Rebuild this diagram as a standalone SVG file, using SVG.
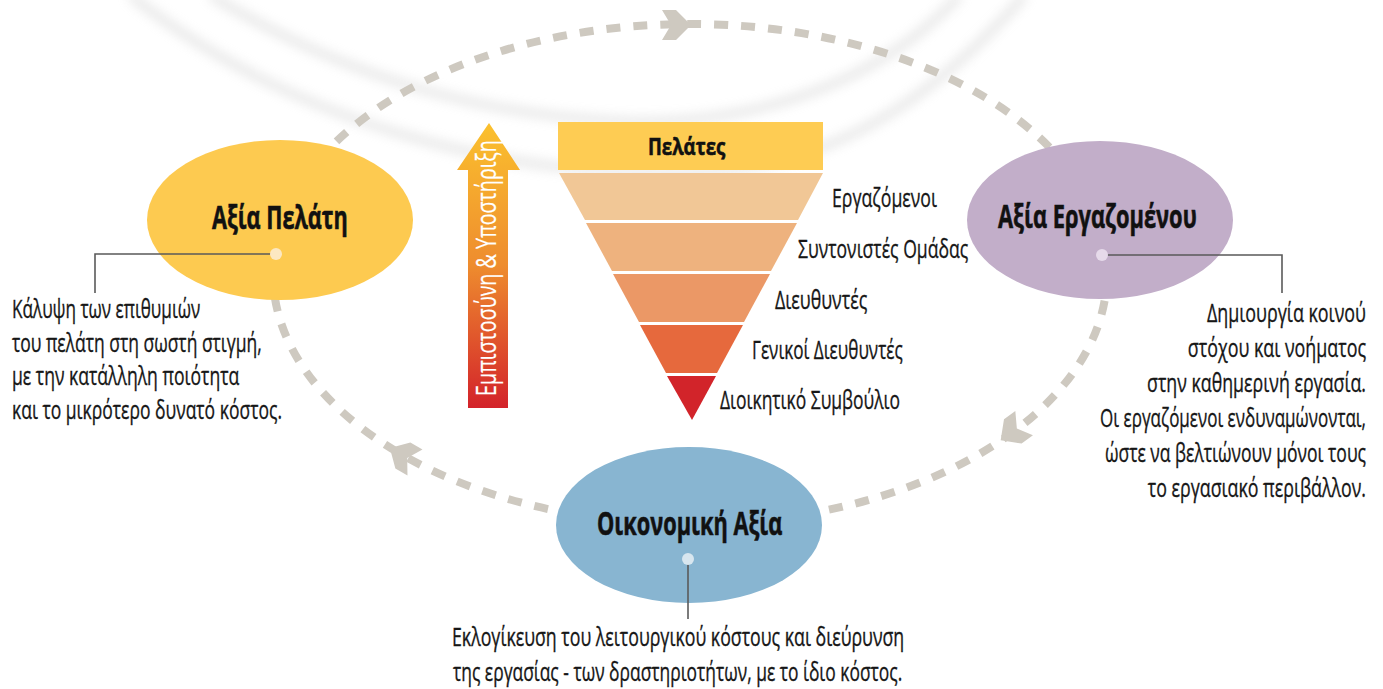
<svg xmlns="http://www.w3.org/2000/svg" width="1383" height="689" viewBox="0 0 1383 689">
<style>
.t{font-family:"Open Sans","Liberation Sans",sans-serif;font-size:26px;fill:#161616;stroke:#161616;stroke-width:0.35}
.r{text-anchor:end}
.h{font-family:"Open Sans","Liberation Sans",sans-serif;font-size:32px;font-weight:700;fill:#111;stroke:#111;stroke-width:0.6}
.lead{fill:none;stroke:#5a5a5a;stroke-width:1.6}
.chev{fill:#CEC9C0}
.sw{fill:none;stroke:#b5b5b5;stroke-width:8;opacity:0.35;filter:url(#blur)}
</style>
<defs>
<filter id="blur" x="-20%" y="-50%" width="140%" height="200%"><feGaussianBlur stdDeviation="6"/></filter>
<linearGradient id="ag" x1="0" y1="123" x2="0" y2="408" gradientUnits="userSpaceOnUse">
<stop offset="0" stop-color="#FBC12E"/>
<stop offset="0.5" stop-color="#EE8C2E"/>
<stop offset="1" stop-color="#D3222A"/>
</linearGradient>
<polygon id="chevShape" points="-15,-15 -1,-15 14,0 -1,15 -15,15 -6,0"/>
</defs>
<rect width="1383" height="689" fill="#ffffff"/>
<g id="background">
<path class="sw" d="M130 -5 C300 130 520 180 700 172 C850 166 950 80 1025 -5"/>
<path class="sw" d="M210 -5 C340 75 480 118 640 122 C800 120 900 60 960 -5"/>
</g>
<g id="connectors">
<ellipse cx="690" cy="274" rx="417" ry="250" fill="none" stroke="#CEC9C0" stroke-width="8" stroke-dasharray="14 13"/>
<use href="#chevShape" class="chev" transform="translate(677,25)"/>
<use href="#chevShape" class="chev" transform="translate(402,455) rotate(210)"/>
<use href="#chevShape" class="chev" transform="translate(1012,432) rotate(144)"/>
</g>
<g id="arrow-trust">
<polygon points="468,408 508,408 508,170 520,170 489,123 457,170 468,170" fill="url(#ag)"/>
<text class="t" transform="translate(496,396) rotate(-90) scale(0.75,1)" style="fill:#ffffff;stroke:#ffffff;stroke-width:0.2;font-size:27px" textLength="341" lengthAdjust="spacingAndGlyphs">Εμπιστοσύνη &amp; Υποστήριξη</text>
</g>
<g id="pyramid">
<rect x="558" y="122" width="265" height="48" fill="#FECC53"/>
<text class="h" transform="translate(648,155) scale(0.75,1)" style="font-size:24px" textLength="103" lengthAdjust="spacingAndGlyphs">Πελάτες</text>
<polygon points="559,173 823,173 798,220 585,220" fill="#F1C796"/>
<polygon points="586,223 797,223 771,271 612,271" fill="#EEB27E"/>
<polygon points="613,274 770,274 744,322 639,322" fill="#EB9866"/>
<polygon points="640,325 743,325 717,373 666,373" fill="#E6693D"/>
<polygon points="667,376 716,376 692,420" fill="#D2242A"/>
<text class="t" transform="translate(832,207) scale(0.75,1)" textLength="140" lengthAdjust="spacingAndGlyphs">Εργαζόμενοι</text>
<text class="t" transform="translate(798,258) scale(0.75,1)" textLength="227" lengthAdjust="spacingAndGlyphs">Συντονιστές Ομάδας</text>
<text class="t" transform="translate(775,309) scale(0.75,1)" textLength="123" lengthAdjust="spacingAndGlyphs">Διευθυντές</text>
<text class="t" transform="translate(752,359) scale(0.75,1)" textLength="201" lengthAdjust="spacingAndGlyphs">Γενικοί Διευθυντές</text>
<text class="t" transform="translate(720,409) scale(0.75,1)" textLength="240" lengthAdjust="spacingAndGlyphs">Διοικητικό Συμβούλιο</text>
</g>
<g id="node-customer">
<ellipse cx="280" cy="220" rx="133" ry="80" fill="#FDCA50"/>
<text class="h" transform="translate(212,229) scale(0.75,1)" textLength="181" lengthAdjust="spacingAndGlyphs">Αξία Πελάτη</text>
<polyline class="lead" points="276,254 95,254 95,293"/>
<circle cx="276" cy="254" r="6" fill="#FCE8C2"/>
<text class="t" transform="translate(12,318) scale(0.75,1)" textLength="251" lengthAdjust="spacingAndGlyphs">Κάλυψη των επιθυμιών</text>
<text class="t" transform="translate(12,352) scale(0.75,1)" textLength="333" lengthAdjust="spacingAndGlyphs">του πελάτη στη σωστή στιγμή,</text>
<text class="t" transform="translate(12,385) scale(0.75,1)" textLength="303" lengthAdjust="spacingAndGlyphs">με την κατάλληλη ποιότητα</text>
<text class="t" transform="translate(12,419) scale(0.75,1)" textLength="360" lengthAdjust="spacingAndGlyphs">και το μικρότερο δυνατό κόστος.</text>
</g>
<g id="node-employee">
<ellipse cx="1100" cy="220" rx="133" ry="79" fill="#C2AEC9"/>
<text class="h" transform="translate(998,228) scale(0.75,1)" textLength="265" lengthAdjust="spacingAndGlyphs">Αξία Εργαζομένου</text>
<polyline class="lead" points="1102,255 1282,255 1282,293"/>
<circle cx="1102" cy="255" r="6" fill="#E6DAEA"/>
<text class="t r" transform="translate(1366,322) scale(0.68,1)" textLength="234" lengthAdjust="spacingAndGlyphs">Δημιουργία κοινού</text>
<text class="t r" transform="translate(1366,357) scale(0.68,1)" textLength="262" lengthAdjust="spacingAndGlyphs">στόχου και νοήματος</text>
<text class="t r" transform="translate(1366,392) scale(0.68,1)" textLength="322" lengthAdjust="spacingAndGlyphs">στην καθημερινή εργασία.</text>
<text class="t r" transform="translate(1366,427) scale(0.68,1)" textLength="391" lengthAdjust="spacingAndGlyphs">Οι εργαζόμενοι ενδυναμώνονται,</text>
<text class="t r" transform="translate(1366,462) scale(0.68,1)" textLength="384" lengthAdjust="spacingAndGlyphs">ώστε να βελτιώνουν μόνοι τους</text>
<text class="t r" transform="translate(1366,497) scale(0.68,1)" textLength="321" lengthAdjust="spacingAndGlyphs">το εργασιακό περιβάλλον.</text>
</g>
<g id="node-economic">
<ellipse cx="689" cy="525" rx="133" ry="78" fill="#88B5D1"/>
<text class="h" transform="translate(597,535) scale(0.75,1)" textLength="247" lengthAdjust="spacingAndGlyphs">Οικονομική Αξία</text>
<line class="lead" x1="688" y1="559" x2="688" y2="619"/>
<circle cx="688" cy="559" r="6" fill="#D8E6EF"/>
<text class="t" transform="translate(452,646) scale(0.75,1)" textLength="603" lengthAdjust="spacingAndGlyphs">Εκλογίκευση του λειτουργικού κόστους και διεύρυνση</text>
<text class="t" transform="translate(453,681) scale(0.75,1)" textLength="599" lengthAdjust="spacingAndGlyphs">της εργασίας - των δραστηριοτήτων, με το ίδιο κόστος.</text>
</g>
</svg>
